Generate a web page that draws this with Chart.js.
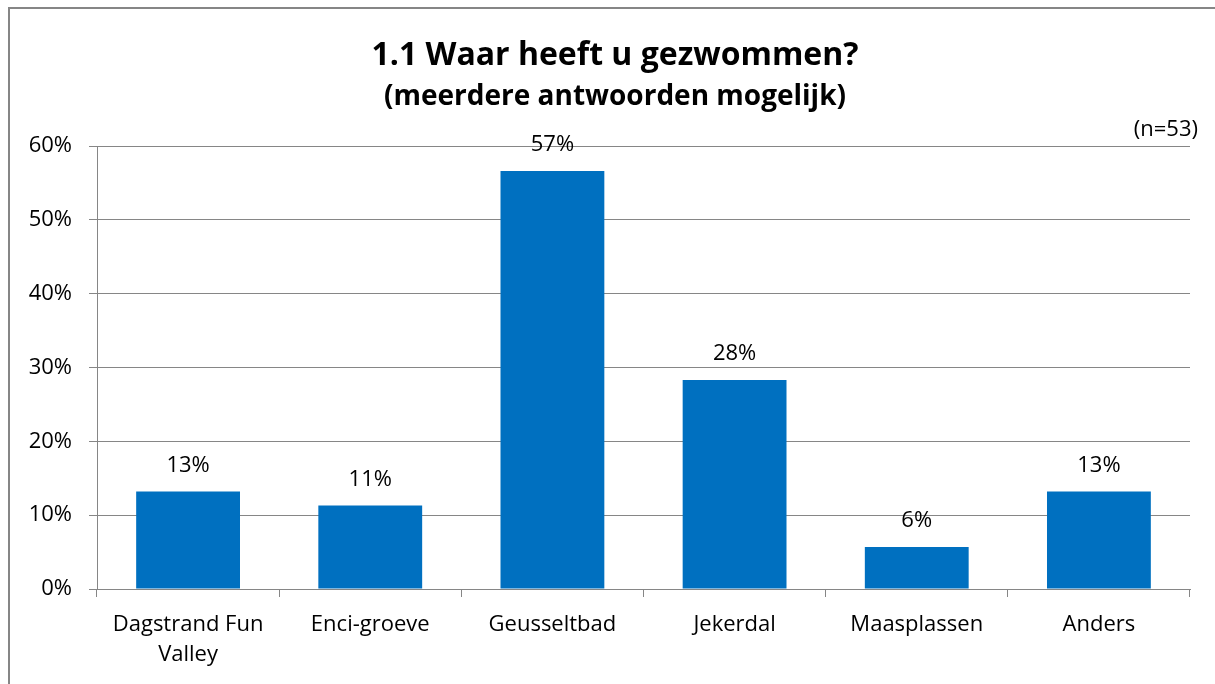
<!DOCTYPE html>
<html>
<head>
<meta charset="utf-8">
<script src="https://cdn.jsdelivr.net/npm/chart.js@4"></script>
<style>
    html, body { margin: 0; padding: 0; background: #fff; overflow: hidden; }
    #wrap { width: 1215px; height: 684px; }
</style>
</head>
<body>
<div id="wrap"><canvas id="chart" width="1215" height="684"></canvas></div>
<script>
// Datos
const categories = [['Dagstrand Fun', 'Valley'], 'Enci-groeve', 'Geusseltbad', 'Jekerdal', 'Maasplassen', 'Anders'];
const percentages = [13.2, 11.3, 56.6, 28.3, 5.7, 13.2];
const valueLabels = ['13%', '11%', '57%', '28%', '6%', '13%'];
const yTicks = [0, 10, 20, 30, 40, 50, 60];
const titleText = '1.1 Waar heeft u gezwommen?';
const subtitleText = '(meerdere antwoorden mogelijk)';
const noteText = '(n=53)';

const FONT = '"Open Sans", Lato, "Liberation Sans", sans-serif';
const GRID = '#868686';
const BAR = '#0070C0';

// Marco, título desplazado y etiquetas de valores
const extras = {
    id: 'extras',
    afterLayout(chart) {
        // el título del original está algo a la derecha del centro
        chart.boxes.forEach(b => {
            if (b.options && b.options.text !== undefined && b.position === 'top') {
                b.left += 10;
                b.right += 10;
            }
        });
    },
    beforeDraw(chart) {
        const ctx = chart.ctx;
        ctx.save();
        ctx.fillStyle = '#fff';
        ctx.fillRect(0, 0, chart.width, chart.height);
        // solo se ven los bordes superior e izquierdo
        ctx.strokeStyle = GRID;
        ctx.lineWidth = 2;
        ctx.beginPath();
        ctx.moveTo(9, chart.height);
        ctx.lineTo(9, 8);
        ctx.lineTo(chart.width, 8);
        ctx.stroke();
        ctx.restore();
    },
    afterDatasetsDraw(chart) {
        const ctx = chart.ctx;
        const meta = chart.getDatasetMeta(0);
        ctx.save();
        ctx.fillStyle = '#000';
        ctx.font = '22px ' + FONT;
        ctx.textAlign = 'center';
        ctx.textBaseline = 'alphabetic';
        meta.data.forEach((bar, i) => {
            ctx.fillText(valueLabels[i], bar.x, bar.y - 20);
        });
        ctx.textAlign = 'right';
        ctx.fillText(noteText, 1198, 136);
        ctx.restore();
    }
};

new Chart(document.getElementById('chart').getContext('2d'), {
    type: 'bar',
    data: {
        labels: categories,
        datasets: [{
            data: percentages,
            backgroundColor: BAR,
            borderWidth: 0,
            barPercentage: 0.57,
            categoryPercentage: 1
        }]
    },
    options: {
        responsive: false,
        animation: false,
        layout: { padding: { left: 20, right: 25, top: 0, bottom: 0 } },
        plugins: {
            legend: { display: false },
            tooltip: { enabled: false },
            title: {
                display: true,
                text: titleText,
                color: '#000',
                font: { family: FONT, size: 32, weight: 'bold', lineHeight: 1.2 },
                padding: { top: 37, bottom: 2 }
            },
            subtitle: {
                display: true,
                text: subtitleText,
                color: '#000',
                font: { family: FONT, size: 28, weight: 'bold', lineHeight: 1.2 },
                padding: { top: 3, bottom: 32 }
            }
        },
        scales: {
            y: {
                min: 0,
                max: 60,
                afterFit(scale) { scale.width = 77; },
                afterBuildTicks(scale) { scale.ticks = yTicks.map(v => ({ value: v })); },
                grid: { color: GRID, lineWidth: 1, tickLength: 8, drawTicks: true },
                border: { color: GRID, width: 1 },
                ticks: {
                    color: '#000',
                    padding: 17,
                    font: { family: FONT, size: 22 },
                    callback: v => v + '%'
                }
            },
            x: {
                afterFit(scale) { scale.height = 95; },
                grid: { display: true, drawOnChartArea: false, offset: true, color: GRID, tickLength: 8 },
                border: { color: GRID, width: 1 },
                ticks: {
                    color: '#000',
                    padding: 12,
                    maxRotation: 0,
                    autoSkip: false,
                    font: { family: FONT, size: 22, lineHeight: 1.4 }
                }
            }
        }
    },
    plugins: [extras]
});
</script>
</body>
</html>
